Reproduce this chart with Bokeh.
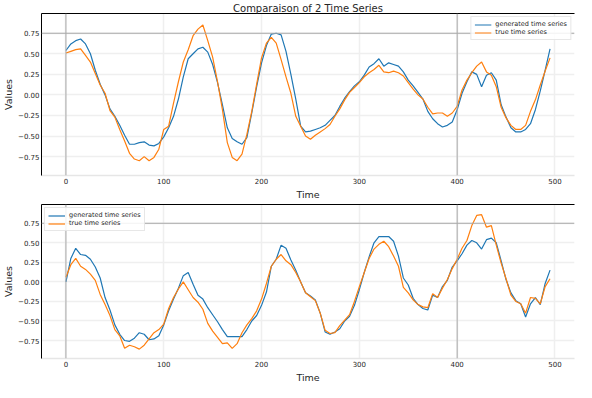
from bokeh.plotting import figure
from bokeh.layouts import column
from bokeh.models import Span, Range1d, LinearAxis, FixedTicker, CustomJSTickFormatter, Title
from bokeh.embed import file_html
from bokeh.resources import INLINE

title_text = "Comparaison of 2 Time Series"
x_label = "Time"
y_label = "Values"
names = ["generated time series", "true time series"]
colors = ["#1f77b4", "#ff7f0e"]

t = list(range(0, 500, 5))

gen_top = [0.54, 0.62, 0.66, 0.68, 0.62, 0.50, 0.30, 0.13, 0.00, -0.17,
           -0.26, -0.37, -0.49, -0.60, -0.60, -0.58, -0.57, -0.61, -0.62, -0.59,
           -0.51, -0.40, -0.26, -0.05, 0.22, 0.44, 0.50, 0.56, 0.58, 0.52,
           0.37, 0.15, -0.12, -0.40, -0.53, -0.57, -0.60, -0.52, -0.22, 0.10,
           0.39, 0.60, 0.74, 0.75, 0.73, 0.53, 0.25, -0.05, -0.38, -0.45,
           -0.44, -0.42, -0.40, -0.37, -0.31, -0.25, -0.14, -0.04, 0.04, 0.11,
           0.16, 0.24, 0.34, 0.38, 0.44, 0.35, 0.39, 0.37, 0.35, 0.28,
           0.18, 0.11, 0.03, -0.05, -0.20, -0.29, -0.35, -0.39, -0.37, -0.33,
           -0.18, 0.02, 0.16, 0.28, 0.25, 0.10, 0.24, 0.27, 0.18, -0.12,
           -0.27, -0.40, -0.45, -0.45, -0.42, -0.35, -0.18, 0.05, 0.30, 0.56]

true_top = [0.51, 0.53, 0.55, 0.56, 0.48, 0.40, 0.26, 0.12, 0.02, -0.19,
            -0.27, -0.42, -0.56, -0.71, -0.78, -0.80, -0.75, -0.80, -0.76, -0.66,
            -0.42, -0.38, -0.10, 0.16, 0.40, 0.55, 0.72, 0.80, 0.85, 0.66,
            0.46, 0.16, -0.18, -0.58, -0.76, -0.80, -0.72, -0.48, -0.20, 0.13,
            0.45, 0.63, 0.70, 0.63, 0.43, 0.22, 0.02, -0.26, -0.38, -0.50,
            -0.54, -0.49, -0.45, -0.41, -0.36, -0.26, -0.17, -0.06, 0.03, 0.09,
            0.15, 0.22, 0.27, 0.31, 0.36, 0.28, 0.27, 0.29, 0.27, 0.23,
            0.15, 0.07, 0.00, -0.05, -0.15, -0.23, -0.22, -0.22, -0.26, -0.22,
            -0.14, 0.06, 0.18, 0.27, 0.35, 0.40, 0.28, 0.24, 0.10, -0.15,
            -0.28, -0.37, -0.42, -0.42, -0.37, -0.20, -0.06, 0.12, 0.29, 0.45]

gen_bot = [0.00, 0.30, 0.43, 0.35, 0.34, 0.29, 0.19, 0.05, -0.20, -0.36,
           -0.55, -0.67, -0.75, -0.76, -0.72, -0.65, -0.67, -0.74, -0.73, -0.69,
           -0.55, -0.37, -0.22, -0.08, 0.08, 0.12, -0.03, -0.17, -0.22, -0.33,
           -0.42, -0.51, -0.61, -0.70, -0.70, -0.70, -0.70, -0.61, -0.50, -0.43,
           -0.30, -0.13, 0.20, 0.29, 0.47, 0.43, 0.28, 0.15, 0.00, -0.14,
           -0.18, -0.23, -0.40, -0.64, -0.67, -0.64, -0.60, -0.50, -0.44, -0.30,
           -0.10, 0.12, 0.32, 0.50, 0.58, 0.58, 0.58, 0.52, 0.33, 0.05,
           -0.04, -0.21, -0.29, -0.34, -0.36, -0.17, -0.20, -0.06, 0.02, 0.19,
           0.27, 0.36, 0.47, 0.53, 0.50, 0.42, 0.54, 0.56, 0.50, 0.27,
           0.03, -0.14, -0.24, -0.28, -0.45, -0.28, -0.20, -0.29, -0.02, 0.15]

true_bot = [0.06, 0.22, 0.30, 0.20, 0.16, 0.10, 0.02, -0.16, -0.29, -0.43,
            -0.61, -0.69, -0.85, -0.81, -0.83, -0.86, -0.81, -0.73, -0.65, -0.61,
            -0.54, -0.34, -0.20, -0.09, 0.00, -0.10, -0.20, -0.26, -0.35, -0.53,
            -0.63, -0.71, -0.79, -0.78, -0.85, -0.79, -0.65, -0.55, -0.47, -0.37,
            -0.22, -0.02, 0.20, 0.29, 0.35, 0.27, 0.22, 0.12, 0.00, -0.14,
            -0.19, -0.24, -0.40, -0.62, -0.66, -0.65, -0.56, -0.49, -0.42, -0.25,
            -0.06, 0.12, 0.30, 0.42, 0.48, 0.52, 0.45, 0.33, 0.20, -0.07,
            -0.14, -0.23, -0.29, -0.32, -0.33, -0.15, -0.20, -0.08, 0.03, 0.17,
            0.29, 0.43, 0.53, 0.72, 0.85, 0.86, 0.70, 0.72, 0.47, 0.24,
            0.04, -0.17, -0.25, -0.28, -0.40, -0.20, -0.21, -0.28, -0.06, 0.04]

x_ticks = [0, 100, 200, 300, 400, 500]
y_ticks = [-0.75, -0.5, -0.25, 0.0, 0.25, 0.5, 0.75]
x_lim = (-25, 520)
y_lim = (-0.98, 0.99)
ref_vlines = [0, 400]
ref_hlines = [0.75]

FONT = "DejaVu Sans"
TXT = "#262626"


def make(gen, true, legend_loc, with_title, height, border_top):
    p = figure(width=576, height=height, output_backend="svg", toolbar_location=None,
               x_range=Range1d(*x_lim), y_range=Range1d(*y_lim),
               title=title_text if with_title else None)
    p.min_border_left = 28
    p.min_border_right = 2
    p.min_border_top = border_top
    p.min_border_bottom = 0
    p.outline_line_color = None
    p.background_fill_color = "white"
    p.border_fill_color = "white"
    if with_title:
        p.title.text_font = FONT
        p.title.text_font_size = "10px"
        p.title.text_font_style = "normal"
        p.title.text_color = TXT
        p.title.align = "center"
        p.title.offset = 0
        p.title.standoff = 0

    p.xgrid.ticker = FixedTicker(ticks=x_ticks)
    p.ygrid.ticker = FixedTicker(ticks=y_ticks)
    for g in (p.xgrid, p.ygrid):
        g.grid_line_color = "#efefef"
        g.grid_line_width = 1.5

    xa = p.xaxis[0]
    xa.ticker = FixedTicker(ticks=x_ticks)
    xa.axis_line_color = "#e6e6e6"
    xa.axis_line_width = 1.5
    ya = p.yaxis[0]
    ya.ticker = FixedTicker(ticks=y_ticks)
    ya.axis_label = y_label
    ya.axis_line_color = "black"
    ya.axis_line_width = 1
    ya.formatter = CustomJSTickFormatter(code="return (tick < 0 ? '\u2212' : '') + Math.abs(tick).toFixed(2);")
    for ax in (xa, ya):
        ax.major_tick_out = 0
        ax.major_tick_in = 0
        ax.minor_tick_out = 0
        ax.minor_tick_in = 0
        ax.major_label_text_font = FONT
        ax.major_label_text_font_size = "7px"
        ax.major_label_text_color = TXT
        ax.axis_label_text_font = FONT
        ax.axis_label_text_font_size = "9.5px"
        ax.axis_label_text_font_style = "normal"
        ax.axis_label_text_color = TXT
        ax.major_label_standoff = 2
        ax.axis_label_standoff = 1

    xt = Title(text=x_label, align="center", text_font=FONT, text_font_size="9.5px",
               text_font_style="normal", text_color=TXT, standoff=0, offset=0)
    p.add_layout(xt, "below")

    top_axis = LinearAxis(ticker=FixedTicker(ticks=[]), major_tick_out=0, major_tick_in=0,
                          minor_tick_out=0, minor_tick_in=0, major_label_standoff=0,
                          axis_line_color="black", axis_line_width=1)
    p.add_layout(top_axis, "above")

    for v in ref_vlines:
        p.add_layout(Span(location=v, dimension="height", line_color="#a8a8a8", line_width=1))
    for h in ref_hlines:
        p.add_layout(Span(location=h, dimension="width", line_color="#a8a8a8", line_width=1))

    p.line(t, gen, line_color=colors[0], line_width=1.2, legend_label=names[0])
    p.line(t, true, line_color=colors[1], line_width=1.2, legend_label=names[1])

    lg = p.legend[0]
    lg.location = legend_loc
    lg.label_text_font = FONT
    lg.label_text_font_size = "6.5px"
    lg.label_text_color = TXT
    lg.label_height = 7
    lg.glyph_height = 7
    lg.glyph_width = 17
    lg.spacing = 0
    lg.padding = 3
    lg.margin = 3
    lg.label_standoff = 4
    lg.border_line_color = "#d0d0d0"
    lg.background_fill_alpha = 0.85
    return p


p1 = make(gen_top, true_top, "top_right", True, 199, 0)
p2 = make(gen_bot, true_bot, "top_left", False, 183, 5)

layout = column(p1, p2, spacing=0)
open("out.html", "w").write(file_html(layout, INLINE))
